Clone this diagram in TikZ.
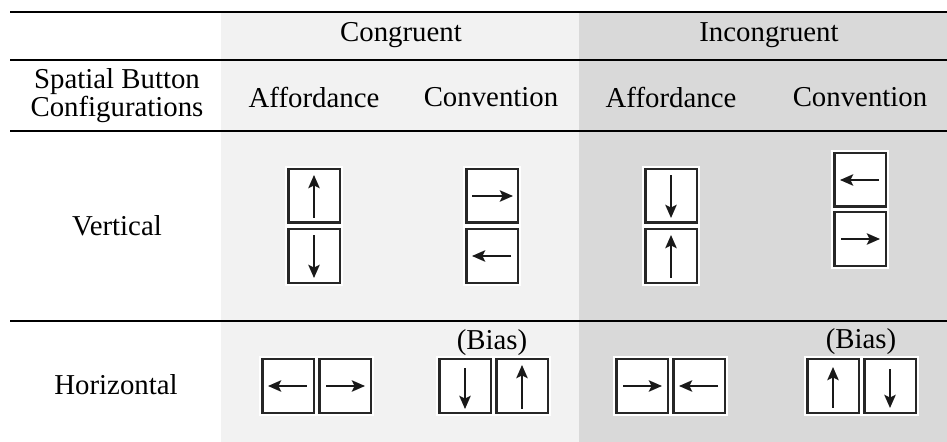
\documentclass[tikz,border=0pt]{standalone}
\usepackage{fontspec}
\setmainfont{Liberation Serif}
\usepackage{xcolor}
\usepackage{tikz}
\usetikzlibrary{arrows.meta}

\definecolor{grigiochiaro}{HTML}{F2F2F2}
\definecolor{grigioscuro}{HTML}{D9D9D9}

\tikzset{
    btn/.style={draw=black!85, line width=1.7pt, fill=white,
        preaction={draw=white, line width=3.6pt},
        minimum width=1.04cm, minimum height=1.08cm, inner sep=0pt},
    freccia/.style={-{Stealth[length=7.5pt,width=6.5pt,inset=1.6pt]},
        line width=1pt, black!90},
    testo/.style={font=\fontsize{16.4}{14.6}\selectfont, inner sep=0pt},
    regola/.style={line width=1.4pt}
}

\begin{document}
\begin{tikzpicture}[x=0.02cm, y=-0.02cm]
        \useasboundingbox (0,0) rectangle (947,442);
        % Sfondi
        \fill[grigiochiaro] (221,12) rectangle (579,442);
        \fill[grigioscuro] (579,12) rectangle (947,442);

        % Righe orizzontali
        \draw[regola] (10,12) -- (947,12);
        \draw[regola] (10,60) -- (947,60);
        \draw[regola] (10,131) -- (947,131);
        \draw[regola] (10,321) -- (947,321);

        % Intestazioni
        \node[testo] (congr) at (401,35) {Congruent};
        \node[testo] (incongr) at (769,35) {Incongruent};
        \node[testo, align=center] (config) at (117,96) {Spatial Button\\Configurations};
        \node[testo] (aff1) at (314,97) {Affordance};
        \node[testo] (conv1) at (491,97) {Convention};
        \node[testo] (aff2) at (671,97) {Affordance};
        \node[testo] (conv2) at (860,97) {Convention};
        \node[testo] (vert) at (117,226) {Vertical};
        \node[testo] (oriz) at (116,385) {Horizontal};
        \node[testo] (bias1) at (492,343) {(Bias)};
        \node[testo] (bias2) at (861,342) {(Bias)};

        % Pulsanti verticali
        \node[btn] (vca1) at (314,196) {};
        \node[btn] (vca2) at (314,256) {};
        \node[btn] (vcc1) at (492,196) {};
        \node[btn] (vcc2) at (492,256) {};
        \node[btn] (via1) at (671,196) {};
        \node[btn] (via2) at (671,256) {};
        \node[btn] (vic1) at (860,180) {};
        \node[btn] (vic2) at (860,239) {};

        % Pulsanti orizzontali
        \node[btn] (hca1) at (288,386) {};
        \node[btn] (hca2) at (345,386) {};
        \node[btn] (hcc1) at (465,386) {};
        \node[btn] (hcc2) at (522,386) {};
        \node[btn] (hia1) at (642,386) {};
        \node[btn] (hia2) at (699,386) {};
        \node[btn] (hic1) at (833,386) {};
        \node[btn] (hic2) at (890,386) {};

        % Frecce verticali
        \draw[freccia] ([yshift=-0.44cm]vca1.center) -- ([yshift=0.42cm]vca1.center);
        \draw[freccia] ([yshift=0.42cm]vca2.center) -- ([yshift=-0.44cm]vca2.center);
        \draw[freccia] ([xshift=-0.40cm]vcc1.center) -- ([xshift=0.42cm]vcc1.center);
        \draw[freccia] ([xshift=0.38cm]vcc2.center) -- ([xshift=-0.40cm]vcc2.center);
        \draw[freccia] ([yshift=0.42cm]via1.center) -- ([yshift=-0.44cm]via1.center);
        \draw[freccia] ([yshift=-0.44cm]via2.center) -- ([yshift=0.42cm]via2.center);
        \draw[freccia] ([xshift=0.38cm]vic1.center) -- ([xshift=-0.40cm]vic1.center);
        \draw[freccia] ([xshift=-0.38cm]vic2.center) -- ([xshift=0.40cm]vic2.center);

        % Frecce orizzontali
        \draw[freccia] ([xshift=0.38cm]hca1.center) -- ([xshift=-0.40cm]hca1.center);
        \draw[freccia] ([xshift=-0.38cm]hca2.center) -- ([xshift=0.40cm]hca2.center);
        \draw[freccia] ([yshift=0.36cm]hcc1.center) -- ([yshift=-0.46cm]hcc1.center);
        \draw[freccia] ([yshift=-0.46cm]hcc2.center) -- ([yshift=0.42cm]hcc2.center);
        \draw[freccia] ([xshift=-0.38cm]hia1.center) -- ([xshift=0.40cm]hia1.center);
        \draw[freccia] ([xshift=0.38cm]hia2.center) -- ([xshift=-0.40cm]hia2.center);
        \draw[freccia] ([yshift=-0.44cm]hic1.center) -- ([yshift=0.38cm]hic1.center);
        \draw[freccia] ([yshift=0.34cm]hic2.center) -- ([yshift=-0.44cm]hic2.center);
    \end{tikzpicture}
\end{document}
